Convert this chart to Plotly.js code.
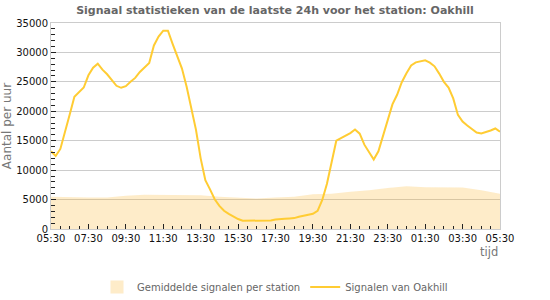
<!DOCTYPE html>
<html>
<head>
<meta charset="utf-8">
<script src="https://cdn.plot.ly/plotly-3.0.1.min.js"></script>
<style>html,body{margin:0;padding:0;background:#fff;}#chart{width:550px;height:300px;}</style>
</head>
<body>
<div id="chart"></div>
<script>
// Time axis: start and step for each series
const startTime = '2024-01-01 05:30';
const endTime = '2024-01-02 05:30';
const lineStepMinutes = 15;
const areaStepMinutes = 60;

// Signalen van Oakhill (every 15 min, 05:30 -> 05:30)
const oakhillValues = [
  13200, 12400, 13600, 16400, 19440, 22470, 23260, 24040, 26120, 27400,
  28090, 27080, 26290, 25280, 24330, 23990, 24270, 25000, 25670, 26690,
  27420, 28200, 31180, 32700, 33700, 33700, 31460, 29200, 27250, 24160,
  20200, 16850, 12000, 8310, 6740, 5060, 3930, 3090, 2580, 2130,
  1690, 1400, 1400, 1400, 1400, 1400, 1400, 1450, 1630, 1740,
  1740, 1800, 1850, 2080, 2250, 2470, 2580, 3090, 4940, 7700,
  11240, 15000, 15450, 15840, 16290, 16900, 16200, 14330, 13030, 11800,
  13200, 16000, 18800, 21180, 22810, 24940, 26460, 27800, 28310, 28540,
  28650, 28260, 27640, 26400, 25000, 24040, 22190, 19380, 18260, 17580,
  16910, 16400, 16240, 16460, 16740, 17080, 16520
];

// Gemiddelde signalen per station (hourly, 05:30 -> 05:30)
const averageValues = [
  5500, 5400, 5350, 5350, 5650, 5800, 5750, 5800, 5750, 5500,
  5340, 5170, 5340, 5500, 5900, 6010, 6350, 6570, 6950, 7250,
  7100, 7100, 7050, 6600, 6000
];

const seriesNames = ['Gemiddelde signalen per station', 'Signalen van Oakhill'];
const chartTitle = 'Signaal statistieken van de laatste 24h voor het station: Oakhill';
const yTitle = 'Aantal per uur';
const xTitle = 'tijd';

const areaColor = 'rgba(250,180,40,0.25)';

function timeAxis(n, stepMin) {
  const t0 = new Date(2024, 0, 1, 5, 30).getTime();
  const out = [];
  for (let i = 0; i < n; i++) {
    const d = new Date(t0 + i * stepMin * 60000);
    const p = v => String(v).padStart(2, '0');
    out.push(`${d.getFullYear()}-${p(d.getMonth()+1)}-${p(d.getDate())} ${p(d.getHours())}:${p(d.getMinutes())}`);
  }
  return out;
}

const areaTrace = {
  x: timeAxis(averageValues.length, areaStepMinutes),
  y: averageValues,
  name: seriesNames[0],
  type: 'scatter',
  mode: 'lines',
  fill: 'tozeroy',
  fillcolor: areaColor,
  line: {width: 0, color: areaColor},
  showlegend: false,
  legendgroup: 'avg',
  hoverinfo: 'skip'
};

// legend-only entry with a square swatch for the area series
const areaLegend = {
  x: [null], y: [null],
  name: seriesNames[0],
  type: 'scatter',
  mode: 'markers',
  marker: {symbol: 'square', size: 13, color: areaColor},
  legendgroup: 'avg',
  showlegend: true
};

const lineTrace = {
  x: timeAxis(oakhillValues.length, lineStepMinutes),
  y: oakhillValues,
  name: seriesNames[1],
  type: 'scatter',
  mode: 'lines',
  line: {width: 2, color: '#ffcc33'}
};

const layout = {
  width: 550, height: 300,
  margin: {l: 51, r: 50, t: 23, b: 71},
  paper_bgcolor: '#fff', plot_bgcolor: '#fff',
  font: {family: 'DejaVu Sans, sans-serif', size: 10, color: '#222'},
  title: {
    text: '<b>' + chartTitle + '</b>',
    x: 0.5, xref: 'container', xanchor: 'center',
    y: 0.965, yref: 'container', yanchor: 'middle',
    font: {family: 'DejaVu Sans, sans-serif', size: 11, color: '#666'}
  },
  xaxis: {
    type: 'date',
    range: [startTime, endTime],
    tick0: startTime,
    dtick: 2 * 3600000,
    tickformat: '%H:%M',
    ticks: 'inside', ticklen: 5, tickcolor: '#222', tickwidth: 1,
    minor: {dtick: 1800000, ticks: 'inside', ticklen: 3, tickcolor: '#222', showgrid: false},
    showgrid: false,
    showline: true, linecolor: '#ccc', linewidth: 1, mirror: true,
    zeroline: false,
    tickfont: {size: 10, color: '#111'},
    automargin: false,
    fixedrange: true
  },
  yaxis: {
    range: [0, 35000],
    dtick: 5000,
    tickformat: 'd',
    ticks: 'inside', ticklen: 5, tickcolor: '#222',
    minor: {dtick: 1000, ticks: 'inside', ticklen: 4, tickcolor: '#222', showgrid: false},
    showgrid: true, gridcolor: '#ccc', gridwidth: 1,
    showline: true, linecolor: '#ccc', linewidth: 1, mirror: true,
    zeroline: false,
    tickfont: {size: 10, color: '#111'},
    title: {text: yTitle, font: {size: 12, color: '#777'}, standoff: 3},
    automargin: false,
    fixedrange: true
  },
  showlegend: true,
  legend: {
    orientation: 'h',
    x: 0.5, xanchor: 'center', xref: 'container',
    y: 0.043, yanchor: 'middle', yref: 'container',
    font: {size: 10, color: '#666'},
    itemwidth: 30,
    traceorder: 'normal'
  },
  annotations: [{
    text: xTitle, xref: 'paper', yref: 'paper',
    x: 1, y: -0.11, xanchor: 'right', yanchor: 'middle',
    showarrow: false, font: {size: 11.5, color: '#777'}
  }]
};

Plotly.newPlot('chart', [areaTrace, areaLegend, lineTrace], layout, {displayModeBar: false, staticPlot: true});
</script>
</body>
</html>
